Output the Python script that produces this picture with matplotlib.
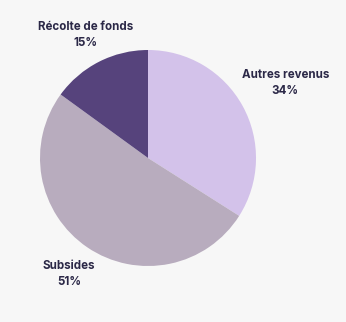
import numpy as np
import matplotlib
matplotlib.use("Agg")
import matplotlib.pyplot as plt

categories = ["Autres revenus", "Subsides", "Récolte de fonds"]
values = [34, 51, 15]
colors = ["#d3c2ea", "#b8acbe", "#56437c"]
label_dist = [1.45, 1.30, 1.28]

plt.rcParams["font.family"] = ["Inter", "DejaVu Sans"]

W, H = 346, 322
fig = plt.figure(figsize=(W / 100, H / 100), dpi=100, facecolor="#f7f7f7")
ax = fig.add_axes([0, 0, 1, 1])
ax.set_facecolor("#f7f7f7")

R = 108.0
cx, cy = 148.0, 158.0
wedges, _ = ax.pie(values, colors=colors, startangle=90, counterclock=False,
                   radius=1.0, wedgeprops=dict(linewidth=0))

for w, name, v, d in zip(wedges, categories, values, label_dist):
    ang = np.deg2rad((w.theta1 + w.theta2) / 2)
    x, y = d * np.cos(ang), d * np.sin(ang)
    ax.text(x, y, f"{name}\n{v}%", ha="center", va="center",
            fontsize=8.3, fontweight="bold", color="#2b2847", linespacing=1.45)

ax.set_xlim(-cx / R, (W - cx) / R)
ax.set_ylim(-(H - cy) / R, cy / R)
ax.set_aspect("auto")
ax.axis("off")

fig.savefig("out.png", dpi=100, facecolor=fig.get_facecolor())
